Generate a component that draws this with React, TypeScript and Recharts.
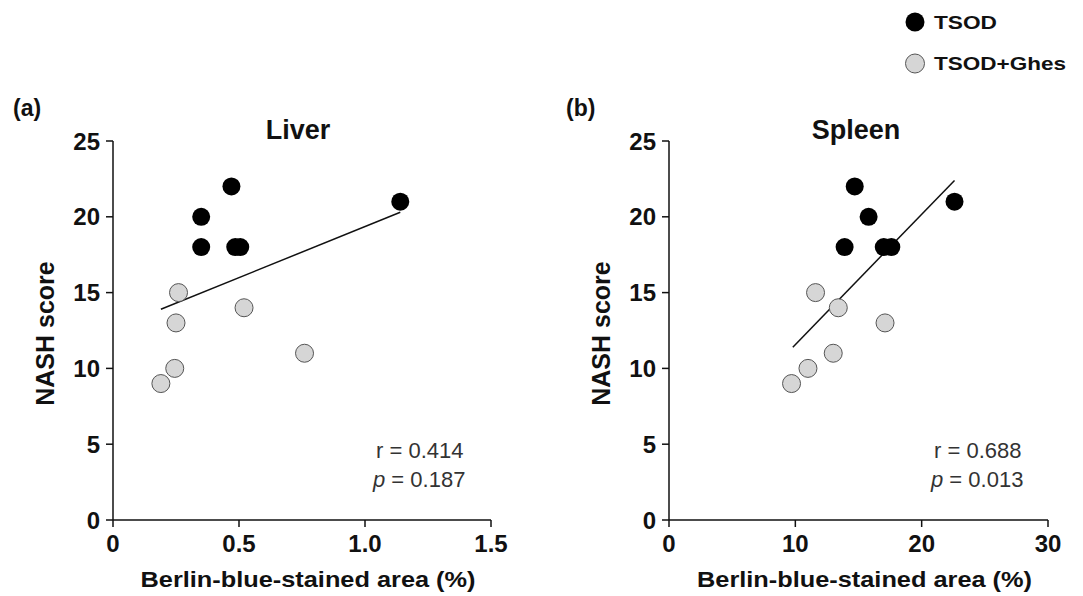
import { Label, ReferenceLine, Scatter, ScatterChart, XAxis, YAxis } from 'recharts';

// Liver panel (a)
const liverTsodArea = [0.47, 0.35, 0.35, 0.485, 0.505, 1.14];
const liverTsodNash = [22, 20, 18, 18, 18, 21];
const liverGhesArea = [0.26, 0.25, 0.52, 0.76, 0.245, 0.19];
const liverGhesNash = [15, 13, 14, 11, 10, 9];
const liverFitArea = [0.19, 1.14];
const liverFitNash = [13.9, 20.3];
const liverXTicks = [0, 0.5, 1.0, 1.5];
const liverXLabels = ['0', '0.5', '1.0', '1.5'];

// Spleen panel (b)
const spleenTsodArea = [14.7, 15.8, 13.9, 17.0, 17.6, 22.6];
const spleenTsodNash = [22, 20, 18, 18, 18, 21];
const spleenGhesArea = [11.6, 13.4, 17.1, 13.0, 11.0, 9.7];
const spleenGhesNash = [15, 14, 13, 11, 10, 9];
const spleenFitArea = [9.8, 22.6];
const spleenFitNash = [11.4, 22.4];
const spleenXTicks = [0, 10, 20, 30];
const spleenXLabels = ['0', '10', '20', '30'];

const nashTicks = [0, 5, 10, 15, 20, 25];

const FONT = '"Liberation Sans", Arial, sans-serif';
const INK = '#111';
const GHES_FILL = '#d6d6d6';
const GHES_STROKE = '#555';

const zip = (xs: number[], ys: number[]) => xs.map((x, i) => ({ x, y: ys[i] }));

interface Props {
  width: number;
  marginRight: number;
  xMax: number;
  xTicks: number[];
  xLabels: string[];
  tsod: Array<{ x: number; y: number }>;
  ghes: Array<{ x: number; y: number }>;
  fit: Array<{ x: number; y: number }>;
}

const tsodDot = (p: any) => <circle cx={p.cx} cy={p.cy} r={9} fill="#000" />;
const ghesDot = (p: any) => <circle cx={p.cx} cy={p.cy} r={9} fill={GHES_FILL} stroke={GHES_STROKE} strokeWidth={1} />;

function Panel({ width, marginRight, xMax, xTicks, xLabels, tsod, ghes, fit }: Props) {
  const axisStyle = { stroke: INK, strokeWidth: 1.5 };
  const tickStyle = { fill: INK, fontSize: 24, fontWeight: 700, fontFamily: FONT };
  return (
    <ScatterChart width={width} height={596} margin={{ top: 141, right: marginRight, bottom: 0, left: 0 }}>
      <XAxis
        type="number"
        dataKey="x"
        domain={[0, xMax]}
        ticks={xTicks}
        tickFormatter={(v: number) => xLabels[xTicks.indexOf(v)]}
        height={76}
        axisLine={axisStyle}
        tickLine={axisStyle}
        tickSize={7}
        tickMargin={8}
        tick={tickStyle}
        allowDataOverflow
      >
        <Label
          content={(p: any) => {
            const vb = p.viewBox;
            return (
              <text
                x={vb.x + vb.width / 2 + 6}
                y={vb.y + 67}
                textAnchor="middle"
                fontFamily={FONT}
                fontWeight={700}
                fontSize={22}
                fill={INK}
                textLength={335}
                lengthAdjust="spacingAndGlyphs"
              >
                Berlin-blue-stained area (%)
              </text>
            );
          }}
        />
      </XAxis>
      <YAxis
        type="number"
        dataKey="y"
        domain={[0, 25]}
        ticks={nashTicks}
        width={113}
        axisLine={axisStyle}
        tickLine={axisStyle}
        tickSize={7}
        tickMargin={6}
        tick={tickStyle}
        allowDataOverflow
      >
        <Label
          content={(p: any) => {
            const vb = p.viewBox;
            const cx = vb.x + 45;
            const cy = vb.y + vb.height / 2 + 3;
            return (
              <text
                x={cx}
                y={cy}
                transform={`rotate(-90 ${cx} ${cy})`}
                textAnchor="middle"
                dominantBaseline="central"
                fontFamily={FONT}
                fontWeight={700}
                fontSize={25}
                fill={INK}
              >
                NASH score
              </text>
            );
          }}
        />
      </YAxis>
      <ReferenceLine segment={[fit[0], fit[1]]} stroke={INK} strokeWidth={1.5} ifOverflow="visible" />
      <Scatter data={ghes} shape={ghesDot} isAnimationActive={false} />
      <Scatter data={tsod} shape={tsodDot} isAnimationActive={false} />
    </ScatterChart>
  );
}

export default function App() {
  const text = { fontFamily: FONT, fill: INK };
  return (
    <div style={{ position: 'absolute', left: 0, top: 0, width: 1083, height: 596, background: '#fff', fontFamily: FONT }}>
      <div style={{ position: 'absolute', left: 0, top: 0 }}>
        <Panel
          width={540}
          marginRight={49}
          xMax={1.5}
          xTicks={liverXTicks}
          xLabels={liverXLabels}
          tsod={zip(liverTsodArea, liverTsodNash)}
          ghes={zip(liverGhesArea, liverGhesNash)}
          fit={zip(liverFitArea, liverFitNash)}
        />
      </div>
      <div style={{ position: 'absolute', left: 556, top: 0 }}>
        <Panel
          width={527}
          marginRight={35}
          xMax={30}
          xTicks={spleenXTicks}
          xLabels={spleenXLabels}
          tsod={zip(spleenTsodArea, spleenTsodNash)}
          ghes={zip(spleenGhesArea, spleenGhesNash)}
          fit={zip(spleenFitArea, spleenFitNash)}
        />
      </div>
      <svg width={1083} height={596} style={{ position: 'absolute', left: 0, top: 0, pointerEvents: 'none' }}>
        <text x={13} y={116} fontSize={23} fontWeight={700} {...text}>(a)</text>
        <text x={566} y={116} fontSize={23} fontWeight={700} {...text}>(b)</text>
        <text x={298} y={139} fontSize={27} fontWeight={700} textAnchor="middle" {...text}>Liver</text>
        <text x={856} y={139} fontSize={27} fontWeight={700} textAnchor="middle" {...text}>Spleen</text>

        <g fontFamily={FONT} fontSize={22} fill="#333">
          <text x={376} y={458}>r = 0.414</text>
          <text x={373} y={487}><tspan fontStyle="italic">p</tspan> = 0.187</text>
          <text x={934} y={458}>r = 0.688</text>
          <text x={931} y={487}><tspan fontStyle="italic">p</tspan> = 0.013</text>
        </g>

        <circle cx={915} cy={22} r={9.5} fill="#000" />
        <text x={934} y={28.5} fontSize={19} fontWeight={700} textLength={63} lengthAdjust="spacingAndGlyphs" {...text}>TSOD</text>
        <circle cx={915} cy={63.5} r={9.5} fill={GHES_FILL} stroke={GHES_STROKE} strokeWidth={1} />
        <text x={934} y={70} fontSize={19} fontWeight={700} textLength={132} lengthAdjust="spacingAndGlyphs" {...text}>TSOD+Ghes</text>
      </svg>
    </div>
  );
}
